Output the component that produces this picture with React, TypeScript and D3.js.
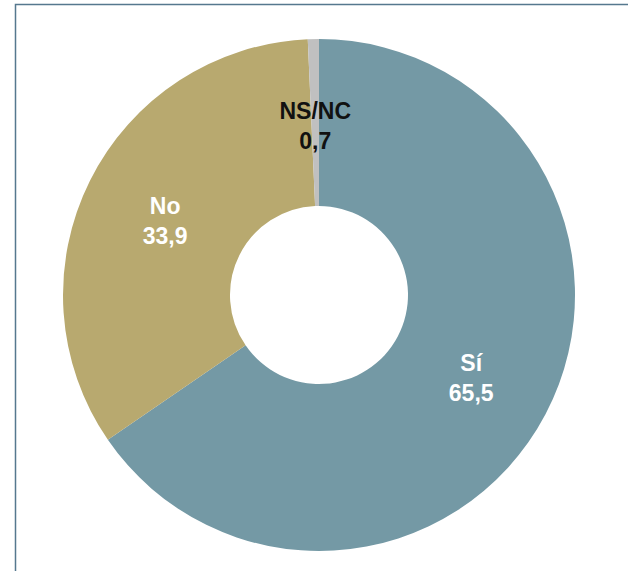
import { useEffect, useRef } from 'react'
import * as d3 from 'd3'

const categories = ['Sí', 'No', 'NS/NC']
const values = [65.5, 33.9, 0.7]
const valueLabels = ['65,5', '33,9', '0,7']
const colors = ['#7499a5', '#b8a96f', '#c0c0c0']
const textColors = ['#ffffff', '#ffffff', '#111111']

export default function App() {
  const svgRef = useRef<SVGSVGElement>(null)

  useEffect(() => {
    const svg = svgRef.current
    if (!svg) return
    const width = 628
    const height = 571
    const cx = 319
    const cy = 295
    const outerR = 256
    const innerR = 89

    const root = d3.select(svg)
    root.selectAll('*').remove()
    root.attr('width', width).attr('height', height)

    root.append('rect').attr('width', width).attr('height', height).attr('fill', '#ffffff')

    // frame
    root
      .append('rect')
      .attr('x', 15.5)
      .attr('y', 4.5)
      .attr('width', 700)
      .attr('height', 700)
      .attr('fill', '#ffffff')
      .attr('stroke', '#56788e')
      .attr('stroke-width', 1.5)

    const data = categories.map((c, i) => ({ name: c, value: values[i], label: valueLabels[i], i }))

    const pie = d3
      .pie<(typeof data)[number]>()
      .sort(null)
      .value((d) => d.value)
    const arcs = pie(data)

    const arc = d3.arc<d3.PieArcDatum<(typeof data)[number]>>().innerRadius(innerR).outerRadius(outerR)
    const labelArc = d3.arc<d3.PieArcDatum<(typeof data)[number]>>().innerRadius(172).outerRadius(172)

    const g = root.append('g').attr('transform', `translate(${cx},${cy})`)

    g.selectAll('path')
      .data(arcs)
      .join('path')
      .attr('d', arc)
      .attr('fill', (d) => colors[d.data.i])

    const labels = g
      .selectAll('g.lbl')
      .data(arcs)
      .join('g')
      .attr('class', 'lbl')
      .attr('transform', (d) => {
        const [x, y] = labelArc.centroid(d)
        return `translate(${x},${y})`
      })
      .attr('font-family', 'Liberation Sans, Arial, sans-serif')
      .attr('font-weight', 'bold')
      .attr('font-size', '23px')
      .attr('text-anchor', 'middle')
      .attr('fill', (d) => textColors[d.data.i])

    labels.append('text').attr('y', -4).text((d) => d.data.name)
    labels.append('text').attr('y', 26).text((d) => d.data.label)
  }, [])

  return (
    <div style={{ position: 'fixed', left: 0, top: 0 }}>
      <svg ref={svgRef} style={{ display: 'block' }} />
    </div>
  )
}
